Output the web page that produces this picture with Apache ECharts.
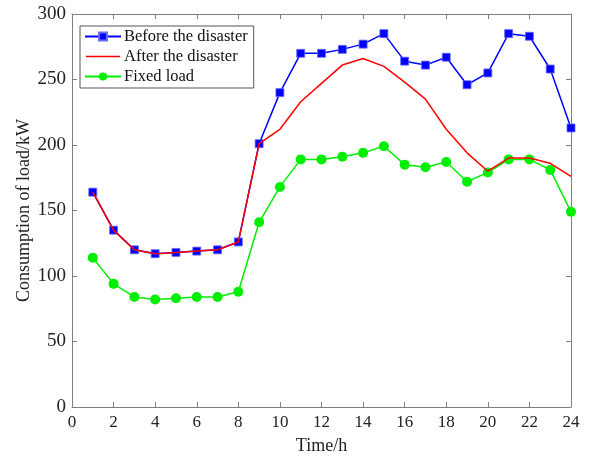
<!DOCTYPE html>
<html>
<head>
<meta charset="utf-8">
<script src="https://cdn.jsdelivr.net/npm/echarts@6/dist/echarts.min.js"></script>
<style>
  html, body { margin: 0; padding: 0; background: #fff; }
  #chart { width: 590px; height: 460px; }
</style>
</head>
<body>
<div id="chart"></div>
<script>
// Hourly load profile (kW)
var hours = [1, 2, 3, 4, 5, 6, 7, 8, 9, 10, 11, 12, 13, 14, 15, 16, 17, 18, 19, 20, 21, 22, 23, 24];
var beforeDisaster = [164, 135, 120, 117, 118, 119, 120, 126, 201, 240, 270, 270, 273, 277, 285, 264, 261, 267, 246, 255, 285, 283, 258, 213];
var afterDisaster  = [164, 135, 120, 117, 118, 119, 120, 126, 201, 212, 233, 247, 261, 266, 260, 248, 235, 212, 194, 180, 190, 190, 186, 176];
var fixedLoad      = [114, 94, 84, 82, 83, 84, 84, 88, 141, 168, 189, 189, 191, 194, 199, 185, 183, 187, 172, 179, 189, 189, 181, 149];
var seriesNames = ['Before the disaster', 'After the disaster', 'Fixed load'];

function pairs(vals) {
  return hours.map(function (h, i) { return [h, vals[i]]; });
}

var axisGray = '#7f7f7f';
var fontFam = '"Liberation Serif", "Times New Roman", serif';
var textColor = '#222';

// plain line glyph for the legend entry that has no markers
var lineOnlyIcon = 'path://M0,0 M0,10 M0,4.3 L34,4.3 L34,5.7 L0,5.7 Z';

var chart = echarts.init(document.getElementById('chart'));
chart.setOption({
  animation: false,
  backgroundColor: '#fff',
  grid: { left: 72, right: 19, top: 14, bottom: 52, containLabel: false },
  legend: {
    left: 80, top: 26,
    orient: 'vertical',
    backgroundColor: '#fff',
    borderColor: '#555',
    borderWidth: 1,
    padding: [2, 6, 3, 4],
    itemGap: 3,
    itemWidth: 36,
    itemHeight: 10,
    textStyle: { color: '#111', fontFamily: fontFam, fontSize: 16.5, padding: [0, 0, 0, -2] },
    data: [
      { name: seriesNames[0] },
      { name: seriesNames[1], icon: lineOnlyIcon, itemStyle: { color: '#ff0000' } },
      { name: seriesNames[2] }
    ]
  },
  xAxis: [{
    type: 'value', min: 0, max: 24, interval: 2,
    position: 'bottom',
    name: 'Time/h', nameLocation: 'middle', nameGap: 30,
    nameTextStyle: { color: textColor, fontFamily: fontFam, fontSize: 18 },
    axisLine: { onZero: false, lineStyle: { color: axisGray, width: 1 } },
    axisTick: { inside: true, length: 5, lineStyle: { color: axisGray } },
    axisLabel: { margin: 7, color: textColor, fontFamily: fontFam, fontSize: 17 },
    splitLine: { show: false }
  }, {
    type: 'value', min: 0, max: 24, interval: 2,
    position: 'top',
    axisLine: { onZero: false, lineStyle: { color: axisGray, width: 1 } },
    axisTick: { inside: true, length: 5, lineStyle: { color: axisGray } },
    axisLabel: { show: false },
    splitLine: { show: false }
  }],
  yAxis: [{
    type: 'value', min: 0, max: 300, interval: 50,
    position: 'left',
    name: 'Consumption of load/kW', nameLocation: 'middle', nameGap: 39,
    nameMoveOverlap: false,
    nameTextStyle: { color: textColor, fontFamily: fontFam, fontSize: 18 },
    axisLine: { show: true, onZero: false, lineStyle: { color: axisGray, width: 1 } },
    axisTick: { show: true, inside: true, length: 5, lineStyle: { color: axisGray } },
    axisLabel: { margin: 6, color: textColor, fontFamily: fontFam, fontSize: 19 },
    splitLine: { show: false }
  }, {
    type: 'value', min: 0, max: 300, interval: 50,
    position: 'right',
    axisLine: { show: true, onZero: false, lineStyle: { color: axisGray, width: 1 } },
    axisTick: { show: true, inside: true, length: 5, lineStyle: { color: axisGray } },
    axisLabel: { show: false },
    splitLine: { show: false }
  }],
  series: [{
    name: seriesNames[0], type: 'line',
    data: pairs(beforeDisaster),
    symbol: 'rect', symbolSize: 8,
    lineStyle: { color: '#0000ff', width: 1.5 },
    itemStyle: { color: '#0000ff', borderColor: '#6a6aff', borderWidth: 0.8 },
    z: 3
  }, {
    name: seriesNames[1], type: 'line',
    data: pairs(afterDisaster),
    symbol: 'none', showSymbol: false,
    lineStyle: { color: '#ff0000', width: 1.5 },
    itemStyle: { color: '#ff0000' },
    z: 4
  }, {
    name: seriesNames[2], type: 'line',
    data: pairs(fixedLoad),
    symbol: 'circle', symbolSize: 10,
    lineStyle: { color: '#00ee00', width: 1.5 },
    itemStyle: { color: '#00ee00', borderWidth: 0 },
    z: 2
  }]
});
</script>
</body>
</html>
